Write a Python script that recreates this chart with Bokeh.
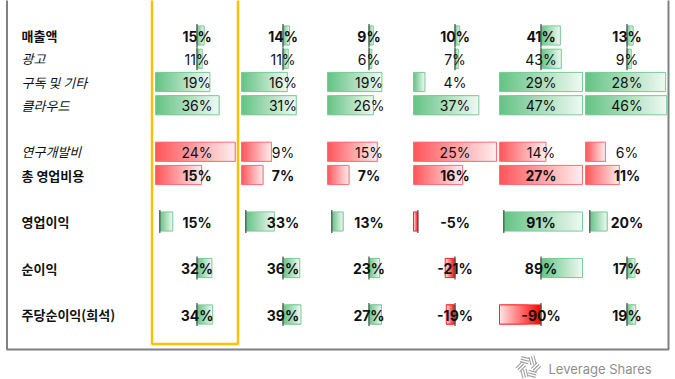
import numpy as np
from bokeh.plotting import figure
from bokeh.models import Range1d
from bokeh.core.properties import value
from bokeh.embed import file_html
from bokeh.resources import INLINE

# ---------------- data ----------------
row_labels = ["매출액", "광고", "구독 및 기타", "클라우드", "연구개발비",
              "총 영업비용", "영업이익", "순이익", "주당순이익(희석)"]
revenue = [15, 14, 9, 10, 41, 13]
advertising = [11, 11, 6, 7, 43, 9]
subscriptions = [19, 16, 19, 4, 29, 28]
cloud = [36, 31, 26, 37, 47, 46]
rnd = [24, 9, 15, 25, 14, 6]
opex = [15, 7, 7, 16, 27, 11]
op_income = [15, 33, 13, -5, 91, 20]
net_income = [32, 36, 23, -21, 89, 17]
eps = [34, 39, 27, -19, -90, 19]
series = [revenue, advertising, subscriptions, cloud, rnd, opex,
          op_income, net_income, eps]

# ---------------- style per row ----------------
row_slot = [0, 1, 2, 3, 5, 6, 8, 10, 12]
row_bold = [True, False, False, False, False, True, True, True, True]
label_italic = [False, True, True, True, True, False, False, False, False]
bar_mode = ["mid", "mid", "left", "left", "left", "left", "auto", "mid", "mid"]
mid_scale = [88, 88, None, None, None, None, None, None, None]
pos_color = ["#63C384"] * 4 + ["#FF555A"] * 2 + ["#63C384"] * 3
NEG_COLOR = "#FF0000"

COL0_CENTER, COL_STEP, CELL_W = 196.5, 86.0, 83.0
ROW0_Y, ROW_STEP = 35.0, 23.25
BAR_HALF, CELL_HALF = 9.6, 11.6
N_SLICES = 28

W, H = 675, 379
p = figure(width=W, height=H, x_range=Range1d(0, W), y_range=Range1d(H, 0),
           output_backend="svg", toolbar_location=None, min_border=0)
p.axis.visible = False
p.grid.visible = False
p.outline_line_color = None
p.background_fill_color = "white"
p.border_fill_color = "white"


def hex_to_rgb(h):
    h = h.lstrip("#")
    return np.array([int(h[i:i + 2], 16) for i in (0, 2, 4)], dtype=float)


def mix(c, f):
    rgb = hex_to_rgb(c) * (1 - f) + 255 * f
    return "#%02x%02x%02x" % tuple(int(round(v)) for v in rgb)


sl_l, sl_r, sl_t, sl_b, sl_c = [], [], [], [], []
bd_l, bd_r, bd_t, bd_b, bd_c = [], [], [], [], []
ax_x, ax_y0, ax_y1 = [], [], []
txt = {True: ([], [], []), False: ([], [], [])}

for r, vals in enumerate(series):
    yc = ROW0_Y + ROW_STEP * row_slot[r]
    mode = bar_mode[r]
    if mode == "mid":
        s = mid_scale[r] if mid_scale[r] else max(abs(v) for v in vals)
        lo, hi = -s, s
    elif mode == "left":
        lo, hi = 0.0, max(vals)
    else:
        lo, hi = min(0, min(vals)), max(vals)
    span = hi - lo
    for j, v in enumerate(vals):
        cell_left = COL0_CENTER + COL_STEP * j - CELL_W / 2
        base = cell_left + (0 - lo) / span * CELL_W
        end = cell_left + (v - lo) / span * CELL_W
        color = pos_color[r] if v >= 0 else NEG_COLOR
        # overlapping slices (each runs to the bar end) -> seamless gradient
        for k in range(N_SLICES):
            t0 = k / N_SLICES
            a = base + (end - base) * t0
            sl_l.append(min(a, end)); sl_r.append(max(a, end))
            sl_t.append(yc - BAR_HALF); sl_b.append(yc + BAR_HALF)
            sl_c.append(mix(color, 0.9 * (k + 0.5) / N_SLICES))
        bd_l.append(min(base, end)); bd_r.append(max(base, end))
        bd_t.append(yc - BAR_HALF); bd_b.append(yc + BAR_HALF)
        bd_c.append(mix(color, 0.15))
        if mode != "left":
            ax_x.append(base); ax_y0.append(yc - CELL_HALF); ax_y1.append(yc + CELL_HALF)
        tx, ty, tt = txt[row_bold[r]]
        tx.append(COL0_CENTER + COL_STEP * j); ty.append(yc + 0.5); tt.append(f"{v}%")

p.quad(left=sl_l, right=sl_r, top=sl_t, bottom=sl_b, fill_color=sl_c, line_color=None)
p.quad(left=bd_l, right=bd_r, top=bd_t, bottom=bd_b, fill_color=None,
       line_color=bd_c, line_width=1)
p.segment(x0=ax_x, y0=ax_y0, x1=ax_x, y1=ax_y1, line_color="#555555", line_width=1.3)

for bold, (tx, ty, tt) in txt.items():
    p.text(x=tx, y=ty, text=tt, text_font=value("Inter"), text_font_size="14px",
           text_font_style="bold" if bold else "normal", text_color="#111111",
           text_align="center", text_baseline="middle")

# row labels
for r, lab in enumerate(row_labels):
    yc = ROW0_Y + ROW_STEP * row_slot[r]
    style = "bold" if row_bold[r] else ("italic" if label_italic[r] else "normal")
    p.text(x=[21], y=[yc], text=[lab], text_font=value("Noto Sans CJK KR"),
           text_font_size="13px", text_font_style=style, text_color="#111111",
           text_align="left", text_baseline="middle")

# frame and highlight
p.line(x=[6.5, 6.5, 668, 668], y=[-5, 349, 349, -5], line_color="#808080", line_width=2)
p.line(x=[151.5, 151.5, 237.5, 237.5], y=[-5, 343.5, 343.5, -5], line_color="#FFC000",
       line_width=2.5)

# logo
cx, cy = 528.0, 366.5
xs, ys = [], []
for k in range(6):
    th = np.deg2rad(60 * k + 15)
    d = np.array([np.cos(th), np.sin(th)])
    n = np.array([-d[1], d[0]])
    for off in (0.0, 2.6, 5.2):
        s0 = np.array([cx, cy]) + n * (3.0 + off) + d * 1.0
        s1 = s0 + d * 8.5
        xs.append([s0[0], s1[0]]); ys.append([s0[1], s1[1]])
p.multi_line(xs=xs, ys=ys, line_color="#a0a0a0", line_width=1.1)
p.text(x=[548], y=[368], text=["Leverage Shares"], text_font=value("Inter"),
       text_font_size="13px", text_color="#8f8f8f", text_align="left",
       text_baseline="middle")

open("out.html", "w").write(file_html(p, INLINE))
